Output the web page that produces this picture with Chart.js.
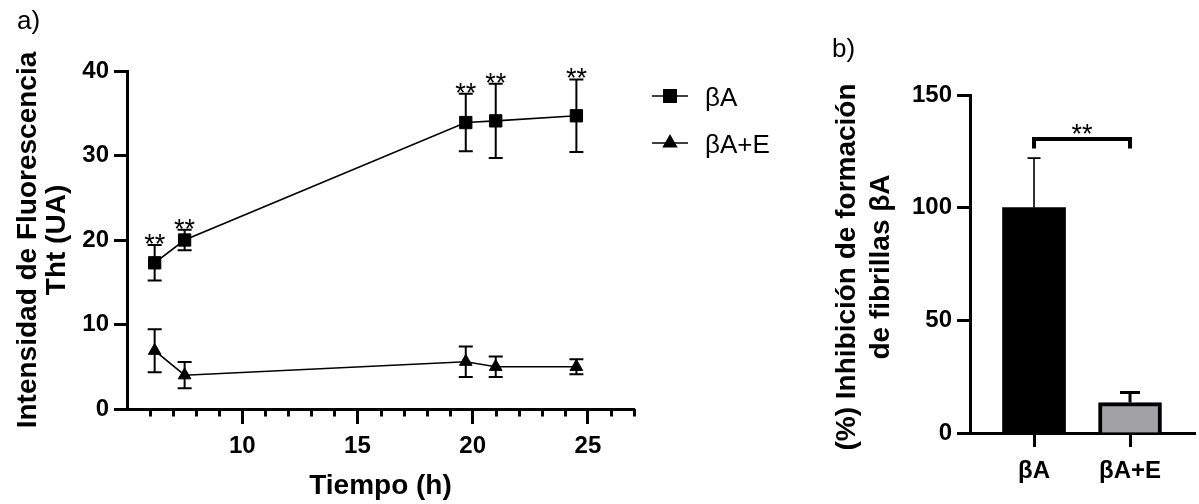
<!DOCTYPE html>
<html><head><meta charset="utf-8">
<script src="https://cdn.jsdelivr.net/npm/chart.js@4"></script>
<style>
html,body{margin:0;padding:0;background:#fff;width:1199px;height:504px;overflow:hidden}
canvas{position:absolute;top:0}
#c1{left:0}
#c2{left:800px}
</style></head><body>
<canvas id="c1" width="800" height="504"></canvas>
<canvas id="c2" width="399" height="504"></canvas>
<script>
// ---- Data: panel a ----
const times = [6.2, 7.5, 19.7, 21, 24.5];
const baMean = [17.3, 20.0, 33.9, 34.1, 34.7];
const baSD = [2.1, 1.2, 3.4, 4.4, 4.3];
const baeMean = [6.9, 4.0, 5.6, 5.0, 5.0];
const baeSD = [2.55, 1.55, 1.8, 1.2, 0.9];
const baSignif = ['**', '**', '**', '**', '**'];
const seriesLabels = ['βA', 'βA+E'];
const xMajorTicks = [10, 15, 20, 25];
const xMinorTicks = [6, 7, 8, 9, 11, 12, 13, 14, 16, 17, 18, 19, 21, 22, 23, 24, 26, 27];
const yTicksA = [0, 10, 20, 30, 40];
const titleYA = ['Intensidad de Fluorescencia', 'Tht (UA)'];
const titleXA = 'Tiempo (h)';

// ---- Data: panel b ----
const barCategories = ['βA', 'βA+E'];
const barMean = [100, 13.5];
const barSD = [22, 4.5];
const barSignif = '**';
const yTicksB = [0, 50, 100, 150];
const titleYB = ['(%) Inhibición de formación', 'de fibrillas βA'];

const FONT = '"Liberation Sans", Arial, Helvetica, sans-serif';
Chart.defaults.font.family = FONT;
Chart.defaults.color = '#000';

function txt(ctx, s, x, y, font, align, base, rot) {
  ctx.save();
  ctx.font = font; ctx.fillStyle = '#000';
  ctx.textAlign = align || 'left'; ctx.textBaseline = base || 'alphabetic';
  ctx.translate(x, y);
  if (rot) ctx.rotate(rot);
  ctx.fillText(s, 0, 0);
  ctx.restore();
}
function stars(ctx, s, x, y) {
  // draws significance asterisks with a little spacing, centred on x
  ctx.save();
  ctx.font = '27px ' + FONT; ctx.fillStyle = '#000';
  ctx.textAlign = 'center'; ctx.textBaseline = 'alphabetic';
  const gap = 10.5, n = s.length;
  for (let k = 0; k < n; k++) ctx.fillText(s[k], x + (k - (n - 1) / 2) * gap, y);
  ctx.restore();
}

// ---------- Panel a plugins ----------
const errA = {
  id: 'errA',
  beforeDatasetsDraw(chart) {
    const ctx = chart.ctx, ys = chart.scales.y;
    chart.data.datasets.forEach((ds, di) => {
      const meta = chart.getDatasetMeta(di);
      meta.data.forEach((pt, i) => {
        const v = ds.data[i].y, e = ds.sd[i];
        const yt = ys.getPixelForValue(v + e), yb = ys.getPixelForValue(v - e);
        ctx.save(); ctx.strokeStyle = '#000'; ctx.lineWidth = 2;
        ctx.beginPath();
        ctx.moveTo(pt.x, yt); ctx.lineTo(pt.x, yb);
        ctx.moveTo(pt.x - 7, yt); ctx.lineTo(pt.x + 7, yt);
        ctx.moveTo(pt.x - 7, yb); ctx.lineTo(pt.x + 7, yb);
        ctx.stroke(); ctx.restore();
      });
    });
  },
  afterDraw(chart) {
    const ctx = chart.ctx, xs = chart.scales.x, ys = chart.scales.y;
    // minor ticks
    ctx.save(); ctx.strokeStyle = '#000'; ctx.lineWidth = 3;
    ctx.beginPath();
    xMinorTicks.forEach(v => {
      const x = Math.round(xs.getPixelForValue(v)) + 0.5;
      ctx.moveTo(x, xs.top); ctx.lineTo(x, xs.top + 7.5);
    });
    ctx.stroke(); ctx.restore();
    // significance stars
    const meta = chart.getDatasetMeta(0);
    meta.data.forEach((pt, i) => {
      const yt = ys.getPixelForValue(baMean[i] + baSD[i]);
      stars(ctx, baSignif[i], pt.x, yt + 8);
    });
    // legend
    const items = [{y: 96, style: 'rect'}, {y: 143, style: 'triangle'}];
    items.forEach((it, k) => {
      ctx.save(); ctx.strokeStyle = '#000'; ctx.fillStyle = '#000'; ctx.lineWidth = 1.6;
      ctx.beginPath(); ctx.moveTo(652, it.y); ctx.lineTo(688, it.y); ctx.stroke();
      Chart.helpers.drawPoint(ctx, {pointStyle: it.style, radius: k === 0 ? 8.7 : 7.3, borderWidth: 1}, 670, it.y);
      ctx.fill();
      ctx.restore();
      txt(ctx, seriesLabels[k], 705, it.y + 3, '26px ' + FONT, 'left', 'middle');
    });
    // titles
    const cy = (chart.chartArea.top + chart.chartArea.bottom) / 2;
    txt(ctx, titleYA[0], 28, cy, 'bold 28px ' + FONT, 'center', 'middle', -Math.PI / 2);
    txt(ctx, titleYA[1], 57, cy, 'bold 28px ' + FONT, 'center', 'middle', -Math.PI / 2);
    txt(ctx, titleXA, (chart.chartArea.left + chart.chartArea.right) / 2, 486, 'bold 28px ' + FONT, 'center', 'middle');
    txt(ctx, 'a)', 17, 29, '26px ' + FONT, 'left', 'alphabetic');
  }
};

new Chart(document.getElementById('c1'), {
  type: 'line',
  data: {
    datasets: [
      { label: seriesLabels[0], data: times.map((t, i) => ({x: t, y: baMean[i]})), sd: baSD,
        borderColor: '#000', borderWidth: 1.6, pointStyle: 'rect', pointRadius: 8.7,
        pointBackgroundColor: '#000', pointBorderColor: '#000', pointBorderWidth: 1, tension: 0, clip: false },
      { label: seriesLabels[1], data: times.map((t, i) => ({x: t, y: baeMean[i]})), sd: baeSD,
        borderColor: '#000', borderWidth: 1.6, pointStyle: 'triangle', pointRadius: 7.3,
        pointBackgroundColor: '#000', pointBorderColor: '#000', pointBorderWidth: 1, tension: 0, clip: false }
    ]
  },
  options: {
    responsive: false, animation: false, devicePixelRatio: 1,
    layout: {padding: {left: 0, top: 71, right: 166, bottom: 0}},
    plugins: {legend: {display: false}, tooltip: {enabled: false}},
    scales: {
      x: {
        type: 'linear', min: 5, max: 27,
        afterBuildTicks: s => { s.ticks = xMajorTicks.map(v => ({value: v})); },
        ticks: {font: {size: 24, weight: 'bold'}, color: '#000', padding: 8, maxRotation: 0, autoSkip: false},
        grid: {drawOnChartArea: false, tickLength: 15, tickWidth: 3, tickColor: '#000', color: '#000'},
        border: {width: 3, color: '#000'},
        afterFit: s => { s.height = 95; }
      },
      y: {
        min: 0, max: 40,
        afterBuildTicks: s => { s.ticks = yTicksA.map(v => ({value: v})); },
        ticks: {font: {size: 24, weight: 'bold'}, color: '#000', padding: 5},
        grid: {drawOnChartArea: false, tickLength: 13, tickWidth: 3, tickColor: '#000', color: '#000'},
        border: {width: 3, color: '#000'},
        afterFit: s => { s.width = 127; }
      }
    }
  },
  plugins: [errA]
});

// ---------- Panel b ----------
const barErrStyle = [{lw: 1.6, cap: 6.5}, {lw: 3, cap: 10}];
const errB = {
  id: 'errB',
  afterDatasetsDraw(chart) {
    const ctx = chart.ctx, xs = chart.scales.x, ys = chart.scales.y;
    barCategories.forEach((c, i) => {
      const x = xs.getPixelForValue(i);
      const y0 = ys.getPixelForValue(barMean[i]), y1 = ys.getPixelForValue(barMean[i] + barSD[i]);
      const st = barErrStyle[i];
      ctx.save(); ctx.strokeStyle = '#000'; ctx.lineWidth = st.lw;
      ctx.beginPath();
      ctx.moveTo(x, y0); ctx.lineTo(x, y1);
      ctx.moveTo(x - st.cap, y1); ctx.lineTo(x + st.cap, y1);
      ctx.stroke(); ctx.restore();
    });
    // bracket
    const x0 = xs.getPixelForValue(0), x1 = xs.getPixelForValue(1);
    const yTop = ys.getPixelForValue(130.5), yLeg = ys.getPixelForValue(126.3);
    ctx.save(); ctx.strokeStyle = '#000'; ctx.lineWidth = 4; ctx.lineJoin = 'miter';
    ctx.beginPath(); ctx.moveTo(x0, yLeg); ctx.lineTo(x0, yTop); ctx.lineTo(x1, yTop); ctx.lineTo(x1, yLeg);
    ctx.stroke(); ctx.restore();
    stars(ctx, barSignif, (x0 + x1) / 2, yTop + 4);
  },
  afterDraw(chart) {
    const ctx = chart.ctx;
    const cy = (chart.chartArea.top + chart.chartArea.bottom) / 2 + 3;
    txt(ctx, titleYB[0], 47, cy, 'bold 28px ' + FONT, 'center', 'middle', -Math.PI / 2);
    txt(ctx, titleYB[1], 81, cy, 'bold 28px ' + FONT, 'center', 'middle', -Math.PI / 2);
    txt(ctx, 'b)', 32, 57, '26px ' + FONT, 'left', 'alphabetic');
  }
};

new Chart(document.getElementById('c2'), {
  type: 'bar',
  data: {
    datasets: [{
      data: barCategories.map((c, i) => ({x: i, y: barMean[i]})),
      backgroundColor: ['#000', '#a3a3a7'], borderColor: '#000', borderWidth: [0, 4],
      barThickness: 63
    }]
  },
  options: {
    responsive: false, animation: false, devicePixelRatio: 1,
    layout: {padding: {left: 0, top: 95, right: 4, bottom: 0}},
    plugins: {legend: {display: false}, tooltip: {enabled: false}},
    scales: {
      x: {
        type: 'linear', min: -0.667, max: 1.677, offset: false,
        afterBuildTicks: s => { s.ticks = barCategories.map((c, i) => ({value: i})); },
        ticks: {callback: v => barCategories[v], font: {size: 24, weight: 'bold'}, color: '#000', padding: 10, maxRotation: 0, autoSkip: false},
        grid: {drawOnChartArea: false, tickLength: 14, tickWidth: 3, tickColor: '#000', color: '#000', offset: false},
        border: {width: 3, color: '#000'},
        afterFit: s => { s.height = 71; }
      },
      y: {
        min: 0, max: 150,
        afterBuildTicks: s => { s.ticks = yTicksB.map(v => ({value: v})); },
        ticks: {font: {size: 24, weight: 'bold'}, color: '#000', padding: 5},
        grid: {drawOnChartArea: false, tickLength: 13, tickWidth: 3, tickColor: '#000', color: '#000'},
        border: {width: 3, color: '#000'},
        afterFit: s => { s.width = 170; }
      }
    }
  },
  plugins: [errB]
});
</script>
</body></html>
